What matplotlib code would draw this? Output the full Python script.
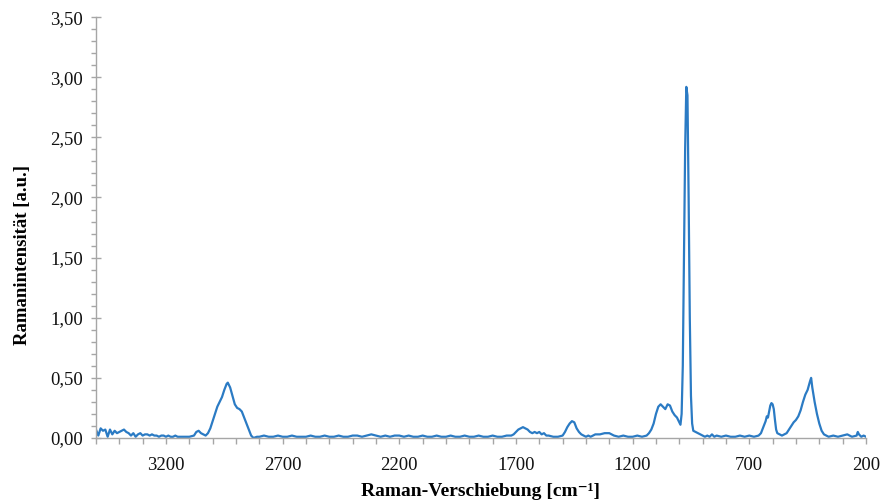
import matplotlib
matplotlib.use("Agg")
import matplotlib.pyplot as plt
from matplotlib.ticker import MultipleLocator, FuncFormatter

plt.rcParams['font.family'] = ['Liberation Serif', 'DejaVu Serif']

wavenumber = [
    3500, 3490, 3480, 3470, 3460, 3450, 3440, 3430, 3420, 3410, 3400, 3390, 3380, 3370, 3360, 3350,
    3340, 3330, 3320, 3310, 3300, 3290, 3280, 3270, 3260, 3250, 3240, 3230, 3220, 3210, 3200, 3190,
    3180, 3170, 3160, 3150, 3140, 3120, 3100, 3080, 3070, 3060, 3050, 3040, 3030, 3020, 3010, 3000,
    2990, 2980, 2970, 2960, 2950, 2940, 2935, 2925, 2915, 2905, 2895, 2885, 2875, 2865, 2855, 2845,
    2835, 2825, 2810, 2800, 2780, 2760, 2740, 2720, 2700, 2680, 2660, 2640, 2620, 2600, 2580, 2560,
    2540, 2520, 2500, 2480, 2460, 2440, 2420, 2400, 2380, 2360, 2340, 2320, 2300, 2280, 2260, 2240,
    2220, 2200, 2180, 2160, 2140, 2120, 2100, 2080, 2060, 2040, 2020, 2000, 1980, 1960, 1940, 1920,
    1900, 1880, 1860, 1840, 1820, 1800, 1780, 1760, 1740, 1720, 1710, 1700, 1690, 1680, 1670, 1660,
    1650, 1640, 1630, 1620, 1610, 1600, 1590, 1580, 1570, 1560, 1540, 1520, 1500, 1490, 1480, 1470,
    1460, 1450, 1440, 1430, 1420, 1410, 1400, 1390, 1380, 1370, 1360, 1340, 1320, 1300, 1290, 1280,
    1260, 1240, 1220, 1200, 1180, 1160, 1140, 1130, 1120, 1110, 1100, 1090, 1080, 1070, 1060, 1050,
    1040, 1030, 1020, 1010, 1000, 995, 990, 985, 980, 975, 970, 965, 960, 955, 950, 945,
    940, 930, 920, 910, 900, 890, 880, 870, 860, 850, 840, 820, 800, 780, 760, 740,
    720, 700, 680, 660, 650, 640, 630, 625, 620, 615, 610, 605, 600, 595, 590, 585,
    580, 570, 560, 550, 540, 530, 520, 510, 500, 490, 480, 470, 460, 450, 440, 435,
    430, 420, 410, 400, 390, 380, 370, 360, 340, 320, 300, 280, 270, 260, 240, 235,
    230, 220, 210, 200,
]
intensity = [
    0.07, 0.02, 0.08, 0.06, 0.07, 0.01, 0.07, 0.03, 0.06, 0.04, 0.05, 0.06, 0.07, 0.05, 0.04, 0.02,
    0.04, 0.01, 0.03, 0.04, 0.02, 0.03, 0.03, 0.02, 0.03, 0.02, 0.02, 0.01, 0.02, 0.02, 0.01, 0.02,
    0.01, 0.01, 0.02, 0.01, 0.01, 0.01, 0.01, 0.02, 0.05, 0.06, 0.04, 0.03, 0.02, 0.04, 0.08, 0.14,
    0.20, 0.26, 0.30, 0.34, 0.40, 0.45, 0.46, 0.42, 0.35, 0.28, 0.25, 0.24, 0.22, 0.17, 0.12, 0.07,
    0.02, 0.00, 0.01, 0.01, 0.02, 0.01, 0.01, 0.02, 0.01, 0.01, 0.02, 0.01, 0.01, 0.01, 0.02, 0.01,
    0.01, 0.02, 0.01, 0.01, 0.02, 0.01, 0.01, 0.02, 0.02, 0.01, 0.02, 0.03, 0.02, 0.01, 0.02, 0.01,
    0.02, 0.02, 0.01, 0.02, 0.01, 0.01, 0.02, 0.01, 0.01, 0.02, 0.01, 0.01, 0.02, 0.01, 0.01, 0.02,
    0.01, 0.01, 0.02, 0.01, 0.01, 0.02, 0.01, 0.01, 0.02, 0.02, 0.03, 0.05, 0.07, 0.08, 0.09, 0.08,
    0.07, 0.05, 0.04, 0.05, 0.04, 0.05, 0.03, 0.04, 0.02, 0.02, 0.01, 0.01, 0.02, 0.05, 0.09, 0.12,
    0.14, 0.13, 0.08, 0.05, 0.03, 0.02, 0.01, 0.02, 0.01, 0.02, 0.03, 0.03, 0.04, 0.04, 0.03, 0.02,
    0.01, 0.02, 0.01, 0.01, 0.02, 0.01, 0.02, 0.04, 0.07, 0.12, 0.20, 0.26, 0.28, 0.26, 0.24, 0.28,
    0.27, 0.22, 0.19, 0.17, 0.13, 0.11, 0.20, 0.60, 1.50, 2.40, 2.92, 2.85, 2.00, 1.00, 0.35, 0.12,
    0.06, 0.05, 0.04, 0.03, 0.02, 0.01, 0.02, 0.01, 0.03, 0.01, 0.02, 0.01, 0.02, 0.01, 0.01, 0.02,
    0.01, 0.02, 0.01, 0.02, 0.04, 0.09, 0.14, 0.18, 0.17, 0.22, 0.27, 0.29, 0.28, 0.24, 0.15, 0.07,
    0.04, 0.03, 0.02, 0.03, 0.04, 0.07, 0.10, 0.13, 0.15, 0.18, 0.23, 0.30, 0.36, 0.40, 0.47, 0.50,
    0.42, 0.30, 0.20, 0.12, 0.06, 0.03, 0.02, 0.01, 0.02, 0.01, 0.02, 0.03, 0.02, 0.01, 0.02, 0.05,
    0.03, 0.01, 0.02, 0.01,
]

x_ticks = [3200, 2700, 2200, 1700, 1200, 700, 200]

fig = plt.figure(figsize=(8.83, 5.04), dpi=100)
ax = fig.add_axes([0.1087, 0.131, 0.872, 0.835])

ax.plot(wavenumber, intensity, color='#2b7bc4', lw=1.6, solid_joinstyle='round')

ax.set_xlim(3500, 200)
ax.set_ylim(0, 3.5)
ax.set_xticks(x_ticks)
ax.xaxis.set_minor_locator(MultipleLocator(100))
ax.yaxis.set_major_locator(MultipleLocator(0.5))
ax.yaxis.set_minor_locator(MultipleLocator(0.1))
ax.yaxis.set_major_formatter(FuncFormatter(lambda v, p: f"{v:.2f}".replace('.', ',')))

for s in ['top', 'right']:
    ax.spines[s].set_visible(False)
for s in ['left', 'bottom']:
    ax.spines[s].set_color('#a6a6a6')
    ax.spines[s].set_linewidth(1.0)

ax.tick_params(axis='y', which='major', direction='inout', length=7, width=1, color='#a6a6a6',
               labelsize=13.5, pad=6, labelcolor='#111111')
ax.tick_params(axis='y', which='minor', direction='out', length=3.5, width=1, color='#a6a6a6')
ax.tick_params(axis='x', which='major', direction='out', length=4, width=1, color='#a6a6a6',
               labelsize=13.5, pad=10, labelcolor='#111111')
ax.tick_params(axis='x', which='minor', direction='out', length=4, width=1, color='#a6a6a6')

ax.set_xlabel('Raman-Verschiebung [cm\u207b\u00b9]', fontsize=14, fontweight='bold')
ax.xaxis.set_label_coords(0.5, -0.126, transform=ax.transAxes)
ax.xaxis.label.set_va('center')
ax.set_ylabel('Ramanintensität [a.u.]', fontsize=13.5, fontweight='bold')
ax.yaxis.set_label_coords(-0.096, 0.435, transform=ax.transAxes)
ax.yaxis.label.set_va('center')

fig.savefig('out.png', dpi=100)
